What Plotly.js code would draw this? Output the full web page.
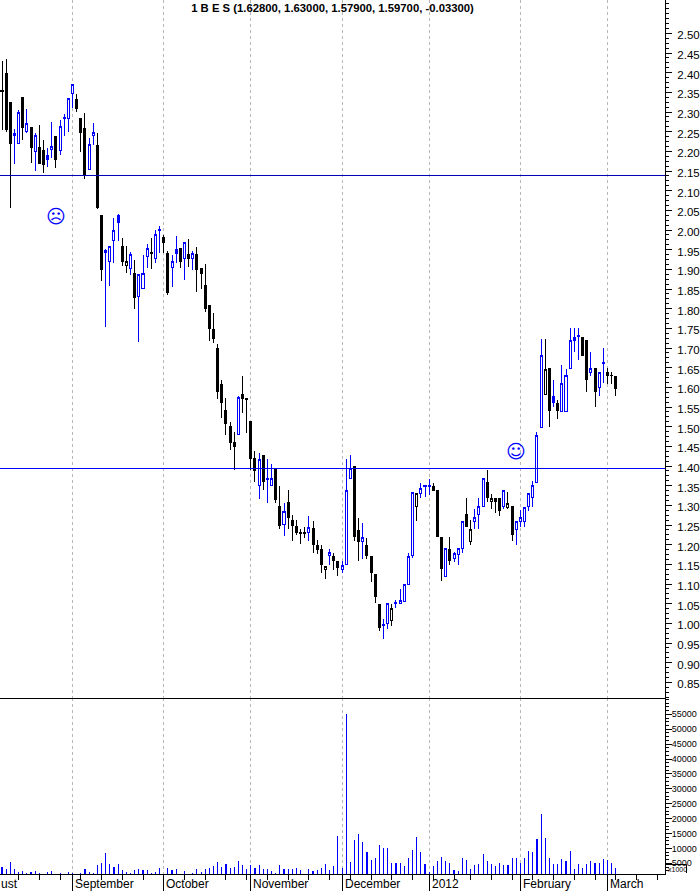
<!DOCTYPE html>
<html>
<head>
<meta charset="utf-8">
<script src="https://cdn.plot.ly/plotly-3.0.1.min.js"></script>
<style>
html,body{margin:0;padding:0;background:#fff}
#chart{width:700px;height:891px}
#chart .cartesianlayer path{shape-rendering:crispEdges}
</style>
</head>
<body>
<div id="chart"></div>
<script>
// Session values, one entry per trading day. Colour flag: 1 = blue candle, 0 = black candle.
const opens = [2.354,2.398,2.325,2.241,2.220,2.337,2.250,2.261,2.200,2.210,2.202,2.190,2.204,2.238,2.202,2.283,2.284,2.347,2.332,2.284,2.258,2.155,2.240,2.215,2.037,1.943,1.920,1.974,2.036,1.958,1.909,1.902,1.890,1.830,1.852,1.933,1.942,1.928,1.999,1.982,1.941,1.905,1.951,1.953,1.928,1.938,1.928,1.938,1.903,1.859,1.808,1.747,1.700,1.607,1.542,1.501,1.461,1.480,1.583,1.571,1.513,1.419,1.351,1.427,1.367,1.351,1.392,1.297,1.251,1.307,1.262,1.246,1.230,1.231,1.231,1.240,1.199,1.189,1.137,1.172,1.169,1.158,1.137,1.150,1.369,1.400,1.235,1.208,1.198,1.169,1.123,1.049,0.994,1.000,1.008,1.051,1.051,1.055,1.099,1.172,1.296,1.330,1.349,1.349,1.349,1.339,1.219,1.119,1.189,1.164,1.176,1.191,1.278,1.208,1.259,1.278,1.298,1.358,1.309,1.318,1.318,1.296,1.294,1.298,1.239,1.259,1.258,1.296,1.320,1.357,1.498,1.582,1.648,1.577,1.560,1.539,1.539,1.647,1.728,1.729,1.727,1.718,1.637,1.648,1.600,1.660,1.638,1.631,1.628];
const highs = [2.430,2.436,2.325,2.258,2.305,2.337,2.308,2.261,2.247,2.267,2.229,2.208,2.274,2.238,2.281,2.294,2.335,2.370,2.347,2.284,2.297,2.233,2.271,2.248,2.037,1.951,1.958,2.030,2.040,1.979,1.959,1.943,1.925,1.888,1.936,1.964,1.979,2.000,2.010,1.987,1.947,1.936,1.985,1.953,1.969,1.976,1.947,1.958,1.903,1.913,1.808,1.788,1.710,1.618,1.574,1.512,1.486,1.578,1.629,1.571,1.513,1.438,1.434,1.427,1.419,1.406,1.392,1.349,1.307,1.339,1.275,1.264,1.241,1.246,1.274,1.260,1.213,1.199,1.144,1.189,1.180,1.158,1.159,1.419,1.428,1.400,1.269,1.254,1.216,1.169,1.123,1.049,1.011,1.051,1.049,1.059,1.087,1.099,1.180,1.333,1.330,1.358,1.350,1.367,1.358,1.339,1.219,1.191,1.219,1.182,1.191,1.259,1.318,1.263,1.292,1.318,1.369,1.390,1.330,1.318,1.318,1.338,1.333,1.298,1.259,1.288,1.294,1.330,1.363,1.487,1.724,1.724,1.648,1.619,1.568,1.658,1.646,1.750,1.750,1.750,1.727,1.718,1.689,1.648,1.638,1.699,1.648,1.638,1.630];
const lows = [2.254,2.250,2.055,2.167,2.220,2.229,2.246,2.171,2.151,2.169,2.146,2.161,2.182,2.158,2.191,2.240,2.250,2.311,2.301,2.199,2.130,2.155,2.216,2.053,1.871,1.754,1.858,1.915,1.973,1.908,1.891,1.885,1.800,1.716,1.852,1.904,1.901,1.915,1.941,1.941,1.835,1.854,1.915,1.904,1.873,1.905,1.898,1.843,1.850,1.792,1.718,1.712,1.571,1.523,1.479,1.440,1.390,1.480,1.535,1.485,1.390,1.360,1.317,1.339,1.306,1.351,1.305,1.240,1.223,1.240,1.210,1.224,1.201,1.218,1.210,1.178,1.176,1.129,1.112,1.148,1.136,1.121,1.127,1.150,1.369,1.209,1.159,1.163,1.163,1.106,1.052,0.981,0.961,0.986,0.993,1.040,1.051,1.055,1.099,1.167,1.260,1.319,1.320,1.326,1.339,1.220,1.108,1.119,1.148,1.157,1.148,1.180,1.247,1.199,1.240,1.240,1.298,1.309,1.291,1.280,1.273,1.291,1.291,1.209,1.199,1.244,1.244,1.285,1.296,1.356,1.498,1.582,1.500,1.551,1.520,1.539,1.539,1.647,1.691,1.669,1.680,1.589,1.630,1.551,1.579,1.612,1.608,1.608,1.579];
const closes = [2.352,2.256,2.220,2.245,2.299,2.260,2.271,2.209,2.241,2.169,2.166,2.179,2.212,2.179,2.263,2.285,2.335,2.370,2.308,2.247,2.140,2.218,2.247,2.057,1.899,1.948,1.958,1.998,2.019,1.919,1.919,1.937,1.829,1.888,1.890,1.953,1.940,1.989,2.001,1.968,1.841,1.920,1.940,1.919,1.969,1.927,1.941,1.900,1.890,1.800,1.749,1.724,1.589,1.561,1.507,1.459,1.449,1.574,1.571,1.569,1.418,1.388,1.416,1.360,1.369,1.368,1.314,1.248,1.284,1.268,1.248,1.230,1.228,1.229,1.244,1.200,1.189,1.149,1.144,1.180,1.159,1.141,1.148,1.338,1.394,1.220,1.208,1.219,1.172,1.130,1.068,0.989,0.997,1.051,1.038,1.053,1.058,1.099,1.169,1.333,1.330,1.343,1.351,1.351,1.339,1.220,1.139,1.191,1.159,1.177,1.191,1.259,1.247,1.239,1.269,1.298,1.369,1.319,1.318,1.309,1.286,1.338,1.305,1.227,1.259,1.269,1.294,1.330,1.350,1.477,1.680,1.646,1.541,1.562,1.541,1.609,1.629,1.719,1.718,1.731,1.680,1.620,1.648,1.589,1.638,1.662,1.630,1.629,1.597];
const blueFlags = [0,0,0,1,1,0,1,0,1,0,0,1,1,0,1,1,1,1,0,0,0,1,1,0,0,1,1,1,1,0,0,1,0,1,1,1,0,1,1,0,0,1,1,0,1,0,1,0,0,0,0,0,0,0,0,0,0,1,0,0,0,0,1,0,1,1,0,0,1,0,0,0,0,0,1,0,0,0,0,1,0,0,1,1,1,0,0,1,0,0,0,0,1,1,0,1,1,1,1,1,0,1,1,1,0,0,0,1,0,1,1,1,0,0,1,1,1,0,0,0,0,1,0,0,1,1,1,1,1,1,1,0,0,1,0,1,1,1,1,1,0,0,1,0,1,1,0,0,0];
const volumes = [3660,3100,5300,3100,2000,2400,1900,2100,2300,1650,1000,2100,2400,1000,1750,1000,2100,1750,1000,1750,3100,2100,1750,4400,5100,8500,4800,3800,4800,2800,2100,1750,2800,3100,2800,2800,1900,2100,3400,1000,3400,2800,3100,1000,2400,1000,1750,3100,2100,3100,3400,4100,5300,3800,4800,3400,3800,5800,4400,3100,4400,3400,4400,3100,3100,2400,1750,4400,3100,3100,3100,3400,2800,1000,3100,2400,2800,3400,4800,2800,4100,14200,3400,55100,5300,12800,14800,12200,8800,6100,6800,11200,10100,10100,5100,5100,5100,4100,6800,9500,13800,8800,4800,2100,4100,5800,7100,5800,5100,2800,2400,6800,6100,3100,4400,4800,8100,5800,4800,4100,5100,4400,4400,6800,6800,5100,6800,9100,8800,13200,21600,13500,6800,4800,4800,6500,5800,9100,3100,4800,3400,4800,5800,5100,5100,6500,6100,5100,3400];

// Month labels along the time axis and the session each one starts at.
const monthLabels = ["September","October","November","December","2012","February","March"];
const monthStarts = [17,39,60,82,103,125,146];
const weekTicks = [4,9,14,19,24,29,34,44,49,54,59,64,69,74,79,84,89,94,99,104,109,113,118,123,128,133,138,143,148,153,158];
const volumeTicks = [5000,10000,15000,20000,25000,30000,35000,40000,45000,50000,55000];

// Horizontal reference levels
const upperLevel = 2.1387;
const lowerLevel = 1.3937;

const titleText = "1 B E S (1.62800, 1.63000, 1.57900, 1.59700, -0.03300)";

const BLUE = "#0000ff", BLACK = "#000000";
const days = opens.map((_, i) => i);
const pick = (arr, flag) => arr.filter((_, i) => blueFlags[i] === flag);

function candles(flag, color) {
  return {
    type: "candlestick", xaxis: "x", yaxis: "y",
    x: pick(days, flag), open: pick(opens, flag), high: pick(highs, flag),
    low: pick(lows, flag), close: pick(closes, flag),
    whiskerwidth: 0, hoverinfo: "skip", showlegend: false,
    increasing: {line: {color: color, width: 1}, fillcolor: "#ffffff"},
    decreasing: {line: {color: color, width: 1}, fillcolor: color}
  };
}

const traces = [
  candles(1, BLUE),
  candles(0, BLACK),
  {type: "bar", xaxis: "x", yaxis: "y2", x: days, y: volumes, width: 0.27,
   marker: {color: BLUE, line: {width: 0}}, hoverinfo: "skip", showlegend: false}
];

const PW = 700, PH = 891;
const px = v => v / PW, py = v => 1 - v / PH;
const priceTicks = [];
for (let k = 17; k <= 50; k++) priceTicks.push(k * 0.05);

const priceFont = {family: "Liberation Sans, Arial, sans-serif", size: 11.5, color: "#000"};
const axisFont = {family: "Liberation Sans, Arial, sans-serif", size: 12, color: "#000"};

const annotations = [
  {text: "ust", xref: "paper", yref: "paper", x: 0, y: py(884), xanchor: "left", yanchor: "middle",
   showarrow: false, font: axisFont, borderpad: 0}
].concat(monthLabels.map((t, i) => ({
  text: t, xref: "x", yref: "paper", x: monthStarts[i], xshift: 1.5, y: py(884),
  xanchor: "left", yanchor: "middle", showarrow: false, font: axisFont, borderpad: 0
}))).concat([
  {text: "\u2639", xref: "paper", yref: "paper", x: px(56), y: py(216), xanchor: "center", yanchor: "middle",
   showarrow: false, font: {family: "DejaVu Sans", size: 19, color: BLUE}, borderpad: 0},
  {text: "\u263A", xref: "paper", yref: "paper", x: px(516), y: py(451), xanchor: "center", yanchor: "middle",
   showarrow: false, font: {family: "DejaVu Sans", size: 19, color: BLUE}, borderpad: 0},
  {text: "x1000", xref: "paper", yref: "paper", x: px(666.5), y: py(869.5), xanchor: "left", yanchor: "middle",
   showarrow: false, font: {family: "Liberation Sans, Arial, sans-serif", size: 7, color: "#000"}, borderpad: 0}
]);

const shapes = [
  {type: "line", xref: "paper", yref: "y", x0: 0, x1: px(665), y0: upperLevel, y1: upperLevel, line: {color: "#0000b8", width: 1}},
  {type: "line", xref: "paper", yref: "y", x0: 0, x1: px(665), y0: lowerLevel, y1: lowerLevel, line: {color: BLUE, width: 1}},
  {type: "line", xref: "paper", yref: "paper", x0: 0, x1: px(665), y0: py(698.5), y1: py(698.5), line: {color: BLACK, width: 1}},
  {type: "line", xref: "paper", yref: "paper", x0: px(665), x1: px(686.5), y0: py(864.5), y1: py(864.5), line: {color: BLACK, width: 1}},
  {type: "line", xref: "paper", yref: "paper", x0: px(686.5), x1: px(686.5), y0: py(864.5), y1: py(873), line: {color: BLACK, width: 1}}
];

const layout = {
  width: PW, height: PH,
  margin: {l: 0, r: 0, t: 0, b: 0, pad: 0},
  paper_bgcolor: "#fff", plot_bgcolor: "#fff",
  showlegend: false, boxgap: 0.3, bargap: 0,
  title: {text: titleText, x: 332.5 / PW, xanchor: "center", xref: "paper", y: py(8), yanchor: "middle",
          font: {family: "Liberation Sans, Arial, sans-serif", size: 11.3, color: "#000", weight: "bold"}},
  xaxis: {
    type: "linear", domain: [0, px(665)], range: [-0.482, 159.87], anchor: "y2",
    rangeslider: {visible: false}, showline: true, linecolor: BLACK, linewidth: 1,
    tickmode: "array", tickvals: monthStarts, ticks: "outside", ticklen: 17, tickcolor: BLACK, tickwidth: 1,
    showticklabels: false, zeroline: false,
    showgrid: true, gridcolor: "#b8b8b8", gridwidth: 1, griddash: "3px,3px",
    minor: {tickmode: "array", tickvals: weekTicks, ticks: "outside", ticklen: 5, tickcolor: BLACK, tickwidth: 1, showgrid: false}
  },
  yaxis: {
    domain: [py(698), 1], range: [0.8102, 2.5849], anchor: "x", side: "right",
    showline: true, linecolor: BLACK, linewidth: 1, showgrid: false, zeroline: false,
    tickmode: "array", tickvals: priceTicks, ticktext: priceTicks.map(v => v.toFixed(2)),
    ticks: "outside", ticklen: 6, tickcolor: BLACK, tickwidth: 1,
    tickfont: priceFont, ticklabelstandoff: 3, ticklabelshift: 2,
    minor: {dtick: 0.0125, tick0: 0, ticks: "outside", ticklen: 3, tickcolor: BLACK, tickwidth: 1, showgrid: false}
  },
  yaxis2: {
    domain: [py(874), py(698)], range: [1410, 60470], anchor: "x", side: "right",
    showline: true, linecolor: BLACK, linewidth: 1, showgrid: false, zeroline: false,
    tickmode: "array", tickvals: volumeTicks, ticktext: volumeTicks.map(String),
    ticks: "outside", ticklen: 6, tickcolor: BLACK, tickwidth: 1, ticklabelstandoff: -2,
    tickfont: {family: "Liberation Sans, Arial, sans-serif", size: 9, color: "#000"},
    minor: {dtick: 1250, tick0: 0, ticks: "outside", ticklen: 3, tickcolor: BLACK, tickwidth: 1, showgrid: false}
  },
  annotations: annotations,
  shapes: shapes
};

Plotly.newPlot("chart", traces, layout, {displayModeBar: false, staticPlot: true});
</script>
</body>
</html>
